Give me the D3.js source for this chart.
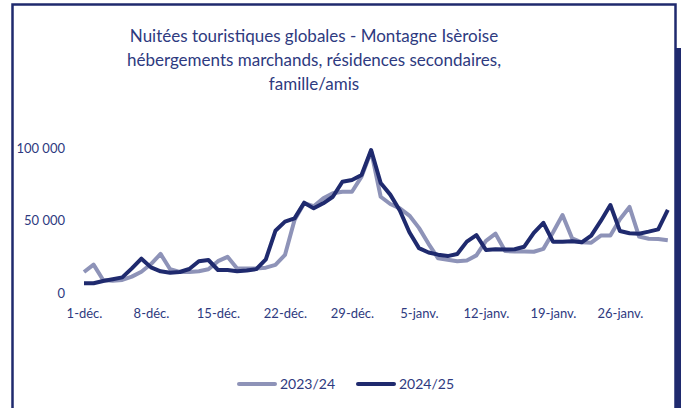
<!DOCTYPE html>
<html><head><meta charset="utf-8">
<script src="https://cdn.jsdelivr.net/npm/d3@7"></script>
<style>body{margin:0;background:#fff}svg{display:block}</style>
</head><body><svg id="c" width="681" height="408"></svg>
<script>
const titleLines = ["Nuitées touristiques globales - Montagne Isèroise","hébergements marchands, résidences secondaires,","famille/amis"];
const seriesNames = ["2023/24","2024/25"];
const xTickLabels = ["1-déc.","8-déc.","15-déc.","22-déc.","29-déc.","5-janv.","12-janv.","19-janv.","26-janv."];
const yTicks = [0,50000,100000];
const s2023 = [14500,19600,9000,8500,9000,11300,14700,20000,27000,16400,14500,14500,15000,16400,22000,25000,17000,17000,17000,17500,19400,26300,50400,62000,60000,65400,68900,70000,70000,80400,98000,66500,61500,58500,53500,45000,34000,24000,23000,22000,22500,26000,36000,41000,29000,28700,28700,28500,30500,41800,53900,37800,35000,34800,39700,39700,51000,59500,39000,37500,37300,36400];
const s2024 = [6700,6700,8300,9500,10800,17000,23700,17700,15000,14000,14500,16600,21900,22800,15900,15900,15000,15500,16500,23300,43000,49300,51600,62400,58500,62000,66500,76900,78100,81500,98800,76000,68000,57000,42000,31000,28000,26500,25500,27000,35500,40000,29700,30200,30000,30200,32000,41500,48500,35500,35500,35800,35000,39700,49800,60800,42800,41300,41000,42400,44000,57400];

const svg = d3.select("#c");
const txt = "#2e3a80";
const font = "Lato, 'Open Sans', sans-serif";

// frame
svg.append("rect").attr("x",12.5).attr("y",4.5).attr("width",663).attr("height",420)
  .attr("fill","none").attr("stroke","#1f2a6e").attr("stroke-width",2.5);
svg.append("rect").attr("x",675).attr("y",48).attr("width",6).attr("height",360).attr("fill","#1f2a6e");

// title
svg.append("text").attr("x",314).attr("y",42).attr("text-anchor","middle")
  .attr("font-family",font).attr("font-size",17).attr("fill",txt)
  .selectAll("tspan").data(titleLines).join("tspan")
  .attr("x",314).attr("dy",(d,i)=>i?24:0).text(d=>d);

const x = d3.scaleLinear().domain([0,61]).range([84,667.8]);
const y = d3.scaleLinear().domain([0,100000]).range([293,148.3]);

const yAxis = d3.axisLeft(y).tickValues(yTicks).tickSize(0).tickPadding(0)
  .tickFormat(d=>d3.format(",")(d).replace(/,/g," "));
const ga = svg.append("g").attr("transform","translate(65,0)").call(yAxis);
ga.select(".domain").remove();
ga.selectAll("text").attr("font-family",font).attr("font-size",13).attr("fill",txt);

const xAxis = d3.axisBottom(x).tickValues(d3.range(0,57,7)).tickSize(0).tickPadding(0)
  .tickFormat((d,i)=>xTickLabels[i]);
const gx = svg.append("g").attr("transform","translate(0,309)").call(xAxis);
gx.select(".domain").remove();
gx.selectAll("text").attr("font-family",font).attr("font-size",13).attr("fill",txt);

const line = d3.line().x((d,i)=>x(i)).y(d=>y(d));
svg.append("path").datum(s2023).attr("d",line).attr("fill","none")
  .attr("stroke","#8e93b8").attr("stroke-width",4).attr("stroke-linejoin","round");
svg.append("path").datum(s2024).attr("d",line).attr("fill","none")
  .attr("stroke","#1f2a6e").attr("stroke-width",4).attr("stroke-linejoin","round");

// legend
const leg = [{n:seriesNames[0],c:"#8e93b8",x:237},{n:seriesNames[1],c:"#1f2a6e",x:356}];
leg.forEach(l=>{
  svg.append("line").attr("x1",l.x+2).attr("x2",l.x+38).attr("y1",384).attr("y2",384)
    .attr("stroke",l.c).attr("stroke-width",4).attr("stroke-linecap","round");
  svg.append("text").attr("x",l.x+43).attr("y",389).attr("font-family",font)
    .attr("font-size",14).attr("fill",txt).text(l.n);
});
</script></body></html>
